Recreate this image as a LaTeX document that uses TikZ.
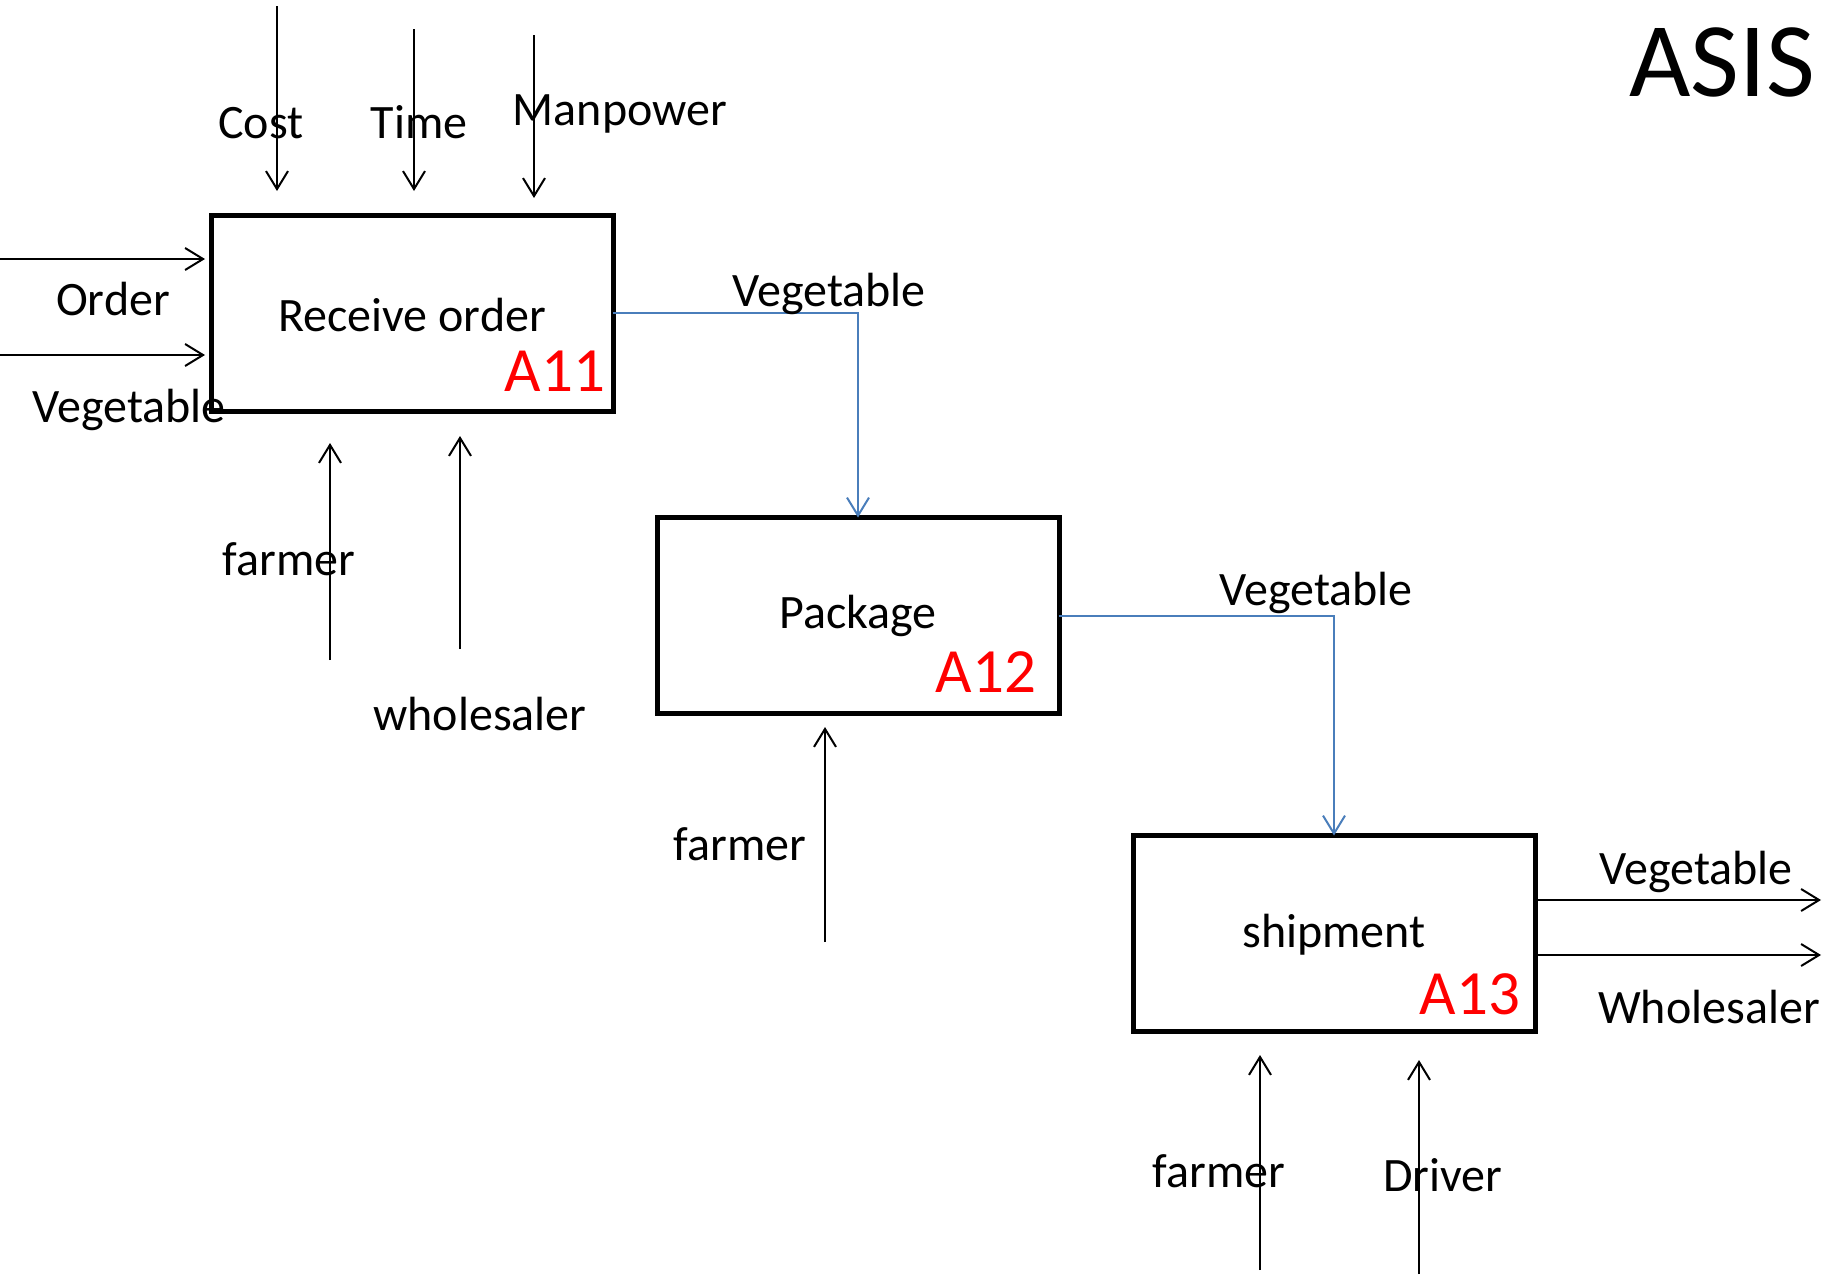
\documentclass[tikz,border=0pt]{standalone}
\usepackage{fontspec}
\setmainfont{Carlito}
\usetikzlibrary{arrows.meta}
\definecolor{flowblue}{HTML}{4A7EBB}
\begin{document}
\begin{tikzpicture}[x=1pt,y=-1pt,
  every node/.style={inner sep=0pt,outer sep=0pt},
  lbl/.style={font=\fontsize{48}{56}\selectfont},
  code/.style={font=\fontsize{63}{72}\selectfont,text=red},
  procbox/.style={draw,line width=5pt,minimum width=402pt,minimum height=196pt},
  arr/.style={line width=2pt,-{Straight Barb[length=18pt,width=22pt,line width=2pt]}},
  flow/.style={arr,draw=flowblue}]
\useasboundingbox (0,0) rectangle (1841,1274);

% activity boxes
\node[procbox] (a11) at (412,313) {};
\node[procbox] (a12) at (858,615.5) {};
\node[procbox] (a13) at (1334,933.5) {};
\node[lbl] (t11) at (412,315) {Receive order};
\node[lbl] (t12) at (858,616) {Package};
\node[lbl] (t13) at (1334,935) {shipment};
\node[code] (c11) at (555,371) {A11};
\node[code] (c12) at (986,672) {A12};
\node[code] (c13) at (1470,994) {A13};

% title
\node[font=\fontsize{106}{120}\selectfont] (title) at (1722,62) {ASIS};

% controls of A11
\coordinate (costtop) at (277,6);
\coordinate (timetop) at (414,29);
\coordinate (mantop) at (534,35);
\draw[arr,shorten >=24pt] (costtop) -- (costtop |- a11.north);
\draw[arr,shorten >=24pt] (timetop) -- (timetop |- a11.north);
\draw[arr,shorten >=17pt] (mantop) -- (mantop |- a11.north);
\node[lbl] (lcost) at (261,123) {Cost};
\node[lbl] (ltime) at (419,122) {Time};
\node[lbl] (lman) at (620,114) {Manpower};

% inputs of A11
\coordinate (ordin) at (0,259);
\coordinate (vegin) at (0,355);
\draw[arr,shorten >=6pt] (ordin) -- (ordin -| a11.west);
\draw[arr,shorten >=6pt] (vegin) -- (vegin -| a11.west);
\node[lbl] (lorder) at (113,299) {Order};
\node[lbl] (lvegin) at (129,410) {Vegetable};

% mechanisms of A11
\coordinate (farm1) at (330,660);
\coordinate (whole1) at (460,649);
\draw[arr,shorten >=32pt] (farm1) -- (farm1 |- a11.south);
\draw[arr,shorten >=25pt] (whole1) -- (whole1 |- a11.south);
\node[lbl] (lfarm1) at (289,559) {farmer};
\node[lbl] (lwhole1) at (480,714) {wholesaler};

% flow between activities
\draw[flow] (a11.east) -| (a12.north);
\node[lbl] (lveg1) at (829,294) {Vegetable};
\draw[flow] (a12.east) -| (a13.north);
\node[lbl] (lveg2) at (1316,593) {Vegetable};

% mechanism of A12
\coordinate (farm2) at (825,942);
\draw[arr,shorten >=13.5pt] (farm2) -- (farm2 |- a12.south);
\node[lbl] (lfarm2) at (740,844) {farmer};

% outputs of A13
\coordinate (vegout) at (1821,900);
\coordinate (wholeout) at (1821,955);
\draw[arr] (vegout -| a13.east) -- (vegout);
\draw[arr] (wholeout -| a13.east) -- (wholeout);
\node[lbl] (lvegout) at (1696,872) {Vegetable};
\node[lbl] (lwholeout) at (1709,1007) {Wholesaler};

% mechanisms of A13
\coordinate (farm3) at (1260,1270);
\coordinate (drv) at (1419,1274);
\draw[arr,shorten >=23.5pt] (farm3) -- (farm3 |- a13.south);
\draw[arr,shorten >=28.5pt] (drv) -- (drv |- a13.south);
\node[lbl] (lfarm3) at (1219,1171) {farmer};
\node[lbl] (ldrv) at (1443,1175) {Driver};
\end{tikzpicture}
\end{document}
